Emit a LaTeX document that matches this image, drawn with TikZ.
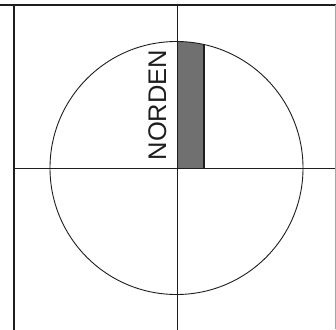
\documentclass[tikz,border=0pt]{standalone}
\usepackage{fontspec}
\setmainfont{Liberation Sans}
\definecolor{barGray}{RGB}{112,112,112}
\definecolor{lineDark}{RGB}{30,30,30}

\begin{document}
\begin{tikzpicture}[x=1pt,y=-1pt,line cap=rect]
        \useasboundingbox (0,0) rectangle (336,329);
        % gray strip inside the circle
        \begin{scope}
          \clip (176.5,168) circle (126.5);
          \fill[barGray] (178,0) rectangle (204,168);
        \end{scope}
        \draw[lineDark,line width=2pt] (204,45) -- (204,168);
        % frame and axes
        \draw[lineDark,line width=1.1pt] (0,5) -- (336,5);
        \draw[lineDark,line width=1.1pt] (14,5) -- (14,329);
        \draw[lineDark,line width=1pt] (177,5) -- (177,329);
        \draw[lineDark,line width=1pt] (14,168) -- (336,168);
        \draw[lineDark!40,line width=0.5pt] (335.5,5) -- (335.5,329);
        \draw[lineDark,line width=0.9pt] (176.5,168) circle (126.5);
        \node[rotate=90,anchor=base,inner sep=0pt,font=\fontsize{25.5}{30}\selectfont,text=lineDark] (norden) at (166,105) {NORDEN};
      \end{tikzpicture}
\end{document}
